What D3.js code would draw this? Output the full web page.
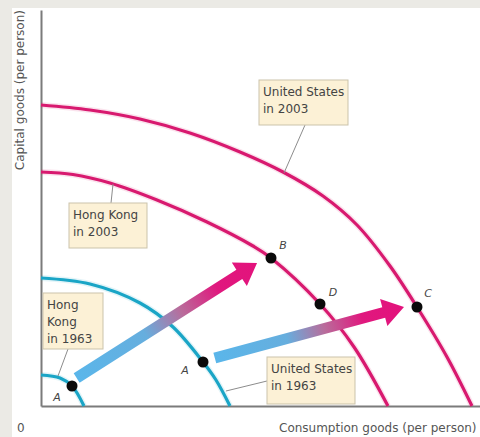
<!DOCTYPE html>
<html><head><meta charset="utf-8">
<script src="https://cdn.jsdelivr.net/npm/d3@7"></script>
<style>body{margin:0;background:#fff;} svg{display:block;font-family:"DejaVu Sans",sans-serif;}</style>
</head><body>
<script>
// ---- data (arbitrary units: consumption goods, capital goods per person) ----
const usa2003 = [[0,75.25],[11.14,74],[22.5,71.75],[33.86,68.25],[45.23,63.5],[55,58.5],[64.09,52.5],[71.82,45.25],[79.32,35],[85.45,24.75],[92.27,12.25],[97.95,0]];
const hk2003  = [[0,58.5],[7.27,57.88],[15.68,55.75],[26.36,51.5],[37.73,46],[48.18,40],[52.27,37],[63.41,25.5],[71.14,14.75],[78.86,0]];
const usa1963 = [[0,32],[11.14,30.5],[22.5,25.75],[30,19.75],[36.82,11],[39.77,6.5],[42.95,0]];
const hk1963  = [[0,7.75],[4.32,7],[7.05,5],[9.77,0]];
const pointNames = ["A","A","B","D","C"];
const pointX = [7.05,36.82,52.27,63.41,85.45];
const pointY = [5,11,37,25.5,24.75];
const arrowFrom = [[8.1,7],[39.5,12]];
const arrowTo   = [[49.1,35.75],[82.5,24.75]];
const xTitle = "Consumption goods (per person)";
const yTitle = "Capital goods (per person)";

// ---- layout / style ----
const W = 480, H = 437;
const magenta = "#d8196f", cyan = "#1aa5c6";
const svg = d3.select("body").append("svg").attr("width", W).attr("height", H);
svg.append("rect").attr("width", W).attr("height", H).attr("fill", "#ebeae5");
svg.append("rect").attr("x", 12).attr("y", 8).attr("width", W - 12).attr("height", H - 8).attr("fill", "#fff");

const x = d3.scaleLinear().domain([0, 100]).range([41, 481]);
const y = d3.scaleLinear().domain([0, 99]).range([406, 10]);

const defs = svg.append("defs");
const grad = defs.append("linearGradient").attr("id", "agrad").attr("x1", "0").attr("x2", "1").attr("y1", "0").attr("y2", "0");
[[0, "#5ab6ea"], [0.38, "#66aede"], [0.58, "#b96c9b"], [0.78, "#e0187e"], [1, "#e3127c"]].forEach(s =>
  grad.append("stop").attr("offset", s[0]).attr("stop-color", s[1]));

// axes
const ax = svg.append("g").attr("transform", `translate(${x(0)},0)`)
  .call(d3.axisLeft(y).tickValues([]).tickSizeOuter(0));
const bx = svg.append("g").attr("transform", `translate(0,${y(0)})`)
  .call(d3.axisBottom(x).tickValues([]).tickSizeOuter(0));
[ax, bx].forEach(g => g.select(".domain").attr("stroke", "#7b7b7b").attr("stroke-width", 2));

// curves
const line = d3.line().x(d => x(d[0])).y(d => y(d[1])).curve(d3.curveCatmullRom.alpha(0.5));
const curves = [[usa2003, magenta], [hk2003, magenta], [usa1963, cyan], [hk1963, cyan]];
curves.forEach(c => {
  svg.append("path").attr("d", line(c[0])).attr("fill", "none").attr("stroke", c[1]).attr("stroke-width", 6).attr("stroke-opacity", 0.12);
  svg.append("path").attr("d", line(c[0])).attr("fill", "none").attr("stroke", c[1]).attr("stroke-width", 3.2);
});

// label boxes
const boxes = [
  {lines: ["United States", "in 2003"], x: 259, y: 80, w: 89, h: 45, from: [305, 125], to: [284, 173]},
  {lines: ["Hong Kong", "in 2003"], x: 69, y: 203, w: 78, h: 45, from: [111, 203], to: [113, 184]},
  {lines: ["United States", "in 1963"], x: 267, y: 357, w: 88, h: 47, from: [267, 381], to: [226, 391]},
  {lines: ["Hong", "Kong", "in 1963"], x: 43, y: 293, w: 60, h: 56, from: [68, 349], to: [58, 376]}
];
boxes.forEach(b => {
  svg.append("line").attr("x1", b.from[0]).attr("y1", b.from[1]).attr("x2", b.to[0]).attr("y2", b.to[1])
    .attr("stroke", "#8c8c8c").attr("stroke-width", 1);
  svg.append("rect").attr("x", b.x).attr("y", b.y).attr("width", b.w).attr("height", b.h)
    .attr("fill", "#fcf1d6").attr("stroke", "#cbc3ab").attr("stroke-width", 1);
  b.lines.forEach((t, k) => {
    svg.append("text").attr("x", b.x + 4).attr("y", b.y + 16 + k * 17).text(t)
      .attr("font-size", 12).attr("fill", "#444");
  });
});

// arrows
arrowFrom.forEach((f, i) => {
  const t = arrowTo[i];
  const x0 = x(f[0]), y0 = y(f[1]), x1 = x(t[0]), y1 = y(t[1]);
  const len = Math.hypot(x1 - x0, y1 - y0);
  const ang = Math.atan2(y1 - y0, x1 - x0) * 180 / Math.PI;
  const hw = 5.5, hl = 21, hh = 14;
  const pts = [[0, -hw], [len - hl, -hw], [len - hl, -hh], [len, 0], [len - hl, hh], [len - hl, hw], [0, hw]];
  svg.append("g").attr("transform", `translate(${x0},${y0}) rotate(${ang})`)
    .append("polygon").attr("points", pts.map(p => p.join(",")).join(" ")).attr("fill", "url(#agrad)");
});

// points
const lblOff = [[-15, 15], [-18, 12], [12, -9], [13, -8], [11, -10]];
pointX.forEach((px, i) => {
  svg.append("circle").attr("cx", x(px)).attr("cy", y(pointY[i])).attr("r", 5.5).attr("fill", "#0a0a0a");
  svg.append("text").attr("x", x(px) + lblOff[i][0]).attr("y", y(pointY[i]) + lblOff[i][1])
    .attr("text-anchor", "middle").attr("font-size", 11).attr("font-style", "italic").attr("fill", "#444").text(pointNames[i]);
});

// axis titles
svg.append("text").attr("x", 17).attr("y", 432).attr("font-size", 12).attr("fill", "#555").text("0");
svg.append("text").attr("x", 279).attr("y", 432).attr("font-size", 12).attr("fill", "#555").text(xTitle);
svg.append("text").attr("transform", "translate(24,10) rotate(-90)").attr("text-anchor", "end")
  .attr("font-size", 12).attr("fill", "#555").text(yTitle);
</script>
</body></html>
